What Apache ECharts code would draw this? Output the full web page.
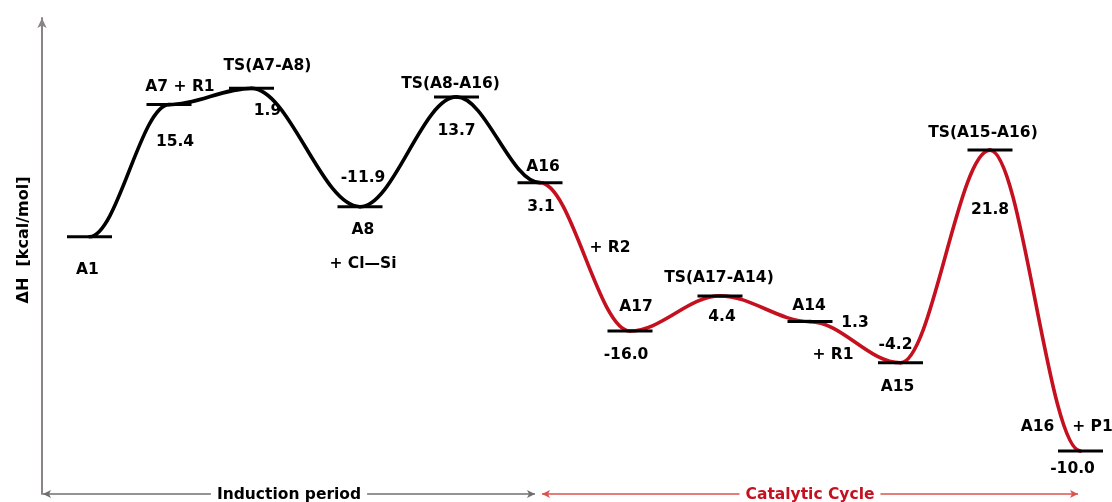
<!DOCTYPE html>
<html>
<head>
<meta charset="utf-8">
<title>Energy profile</title>
<script src="https://cdn.jsdelivr.net/npm/echarts@6/dist/echarts.min.js"></script>
<style>
  html, body { margin: 0; padding: 0; background: #fff; }
  #chart { width: 1112px; height: 502px; }
</style>
</head>
<body>
<div id="chart"></div>
<script>
// species along the reaction coordinate
const names = ['A1', 'A7 + R1', 'TS(A7-A8)', 'A8', 'TS(A8-A16)', 'A16',
  'A17', 'TS(A17-A14)', 'A14', 'A15', 'TS(A15-A16)', 'A16'];
// reaction coordinate (arbitrary units)
const coord = [47.5, 127, 209.5, 318, 414.5, 498, 588, 678, 768, 858.5, 948, 1038.5];
// relative enthalpy as drawn, kcal/mol (A1 = 0)
const enthalpy = [0, 15.4, 17.3, 3.5, 16.3, 6.3, -11.0, -6.9, -9.9, -14.7, 10.1, -25.0];
// numbers printed next to each level
const shownValue = ['', '15.4', '1.9', '-11.9', '13.7', '3.1', '-16.0', '4.4', '1.3', '-4.2', '21.8', '-10.0'];
// extra species annotations, attached to a level index
const extraAt = [3, 6, 8, 11];
const extraText = ['+ Cl\u2014Si', '+ R2', '+ R1', '+ P1'];
// where each stage of the profile runs (reaction coordinate)
const induction = [1, 493];
const catalytic = [500, 1036];
const splitAt = 5; // A16: end of induction, start of catalytic cycle

// label offsets (px) from the level centre
const nameOffset = [[-2, 33], [11, -18], [16, -22], [3, 23], [-6, -13], [3, -16],
  [6, -24], [-1, -18], [-1, -16], [-3, 24], [-7, -17], [-43, -24]];
const valueOffset = [[0, 0], [6, 37], [16, 23], [3, -29], [0, 34], [1, 24],
  [-4, 24], [2, 21], [45, 1], [-5, -18], [0, 60], [-8, 18]];
const extraOffset = [[3, 57], [-20, -83], [23, 33], [12, -24]];

const RED = '#c4101f';
const FONT = { fontFamily: 'DejaVu Sans, sans-serif', fontWeight: 'bold', fontSize: 15.5, color: '#000' };

const pts = coord.map((x, i) => [x, enthalpy[i]]);
// one segment per step between consecutive levels
const segments = coord.slice(1).map((x, i) => [coord[i], enthalpy[i], x, enthalpy[i + 1]]);

function renderStep(params, api) {
  const a = api.coord([api.value(0), api.value(1)]);
  const b = api.coord([api.value(2), api.value(3)]);
  const d = (b[0] - a[0]) * 0.35;
  return {
    type: 'bezierCurve',
    shape: { x1: a[0], y1: a[1], cpx1: a[0] + d, cpy1: a[1], cpx2: b[0] - d, cpy2: b[1], x2: b[0], y2: b[1] },
    style: { stroke: params.dataIndex < splitAt ? '#000' : RED, lineWidth: 3.6, fill: null, lineCap: 'round' }
  };
}

const chart = echarts.init(document.getElementById('chart'));
chart.setOption({
  animation: false,
  grid: { left: 42, right: 0, top: 18, bottom: 8 },
  xAxis: { type: 'value', min: 0, max: 1070, show: false },
  yAxis: {
    type: 'value', min: -30, max: 25.5,
    name: '\u0394H  [kcal/mol]',
    nameLocation: 'middle', nameRotate: 90, nameGap: 10,
    nameTextStyle: Object.assign({}, FONT, { fontSize: 16, padding: [0, 0, 0, 32] }),
    axisLine: { show: true, symbol: ['none', 'arrow'], symbolSize: [7, 10], lineStyle: { color: '#8a8585', width: 2 } },
    axisTick: { show: false }, axisLabel: { show: false }, splitLine: { show: false }
  },
  series: [
    {
      type: 'custom', name: 'profile', coordinateSystem: 'cartesian2d',
      renderItem: renderStep, encode: { x: [0, 2], y: [1, 3] },
      data: segments, silent: true, z: 2,
      markLine: {
        silent: true, symbol: ['arrow', 'arrow'], symbolSize: [6, 8],
        label: Object.assign({}, FONT, { position: 'middle', backgroundColor: '#fff', padding: [0, 6], distance: -9 }),
        data: [
          [{ coord: [induction[0], -30], label: { formatter: 'Induction period' }, lineStyle: { color: '#6f6f6f', width: 1.5, type: 'solid' } },
           { coord: [induction[1], -30] }],
          [{ coord: [catalytic[0], -30], label: { formatter: 'Catalytic Cycle', color: RED }, lineStyle: { color: '#d9534f', width: 1.5, type: 'solid' } },
           { coord: [catalytic[1], -30] }]
        ]
      }
    },
    {
      type: 'scatter', name: 'levels', symbol: 'rect', symbolSize: [45, 3], silent: true, z: 3,
      itemStyle: { color: '#000', opacity: 1 },
      data: pts.map((p, i) => ({
        value: p,
        label: Object.assign({ show: true, position: 'inside', formatter: names[i], offset: nameOffset[i] }, FONT)
      }))
    },
    {
      type: 'scatter', name: 'values', symbolSize: 0, silent: true, z: 4,
      itemStyle: { opacity: 1 },
      data: pts.map((p, i) => ({
        value: p,
        label: Object.assign({ show: shownValue[i] !== '', position: 'inside', formatter: shownValue[i], offset: valueOffset[i] }, FONT)
      }))
    },
    {
      type: 'scatter', name: 'extras', symbolSize: 0, silent: true, z: 4,
      itemStyle: { opacity: 1 },
      data: extraAt.map((k, i) => ({
        value: pts[k],
        label: Object.assign({ show: true, position: 'inside', formatter: extraText[i], offset: extraOffset[i] }, FONT)
      }))
    }
  ]
});
</script>
</body>
</html>
